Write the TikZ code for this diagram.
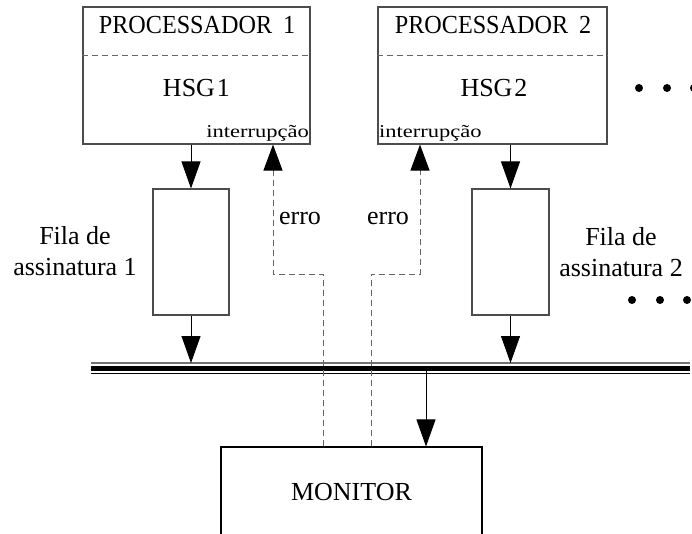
\documentclass[tikz,border=0pt]{standalone}
\usepackage{fontspec}
\usepackage{graphicx}
\setmainfont{Liberation Serif}
\usetikzlibrary{arrows.meta}
\begin{document}
\begin{tikzpicture}[x=1pt,y=-1pt,
  box/.style={draw=black!70, line width=1.1pt, inner sep=0pt},
  big/.style={font=\fontsize{26}{31}\selectfont, inner sep=0pt},
  small/.style={font=\fontsize{18}{22}\selectfont, inner sep=0pt},
  arr/.style={line width=0.9pt, -{Triangle[length=27pt,width=19pt]}},
  err/.style={dash pattern=on 6pt off 4pt, draw=black!60, line width=1pt,
    -{Triangle[length=26pt,width=19pt,color=black]}},
  sep/.style={dash pattern=on 6pt off 4pt, draw=black!60, line width=1pt},
  dot/.style={circle, fill=black, inner sep=0pt, minimum size=8pt}
]
\clip (0,0) rectangle (692,534);

% processors
\node[box, minimum width=227pt, minimum height=137pt] (p1) at (196.5,75.5) {};
\node[box, minimum width=229pt, minimum height=137pt] (p2) at (492.5,75.5) {};
\draw[sep] ([yshift=-49pt]p1.north west) -- ([yshift=-49pt]p1.north east);
\draw[sep] ([yshift=-49pt]p2.north west) -- ([yshift=-49pt]p2.north east);
\node[big, anchor=base] (t1) at (197,34) {\scalebox{0.93}[1]{PROCESSADOR\hspace{0.45em}1}};
\node[big, anchor=base] (h1) at (196.5,97) {HSG\kern2pt1};
\node[big, anchor=base] (t2) at (493,34) {\scalebox{0.93}[1]{PROCESSADOR\hspace{0.45em}2}};
\node[big, anchor=base] (h2) at (494,97) {HSG\kern2pt2};
\node[small, anchor=base east] (ir1) at (309,138) {\scalebox{1.25}[1]{interrupção}};
\node[small, anchor=base west] (ir2) at (379,138) {\scalebox{1.25}[1]{interrupção}};

% signature queues
\node[box, minimum width=76pt, minimum height=126pt] (f1) at (191,252) {};
\node[box, minimum width=77pt, minimum height=126pt] (f2) at (510.5,252) {};
\node[big, align=center] (fl1) at (75,251) {Fila de\\assinatura 1};
\node[big, align=center] (fl2) at (621,252) {Fila de\\assinatura 2};

% bus
\coordinate (busL) at (91,363);
\coordinate (busR) at (690,363);
\draw[black!55, line width=1.5pt] (busL) -- (busR);
\draw[line width=4.5pt] ([yshift=-5.5pt]busL) -- ([yshift=-5.5pt]busR);
\draw[line width=1pt] ([yshift=-10.5pt]busL) -- ([yshift=-10.5pt]busR);

% monitor
\node[box, draw=black, minimum width=261pt, minimum height=90pt,
  font=\fontsize{26}{31}\selectfont] (mon) at (351.5,492) {MONITOR};

% data arrows
\draw[arr] (f1.north |- p1.south) -- (f1.north);
\draw[arr] (f2.north |- p2.south) -- (f2.north);
\draw[arr] (f1.south) -- (f1.south |- busL);
\draw[arr] (f2.south) -- (f2.south |- busL);
\coordinate (mt) at (426,371);
\draw[arr] (mt) -- (mt |- mon.north);

% error paths
\coordinate (e1) at (323,274);
\coordinate (u1) at (273,274);
\coordinate (e2) at (371,274);
\coordinate (u2) at (420,274);
\draw[err] (mon.north -| e1) -- (e1) -- (u1) -- (u1 |- p1.south);
\draw[err] (mon.north -| e2) -- (e2) -- (u2) -- (u2 |- p2.south);
\node[big, anchor=base] (er1) at (300,225) {erro};
\node[big, anchor=base] (er2) at (388,225) {erro};

% ellipses
\node[dot] (d1) at (639,88) {};
\node[dot] (d2) at (667,88) {};
\node[dot] (d3) at (694,88) {};
\node[dot] (d4) at (632,300) {};
\node[dot] (d5) at (660,300) {};
\node[dot] (d6) at (687,300) {};
\end{tikzpicture}
\end{document}
